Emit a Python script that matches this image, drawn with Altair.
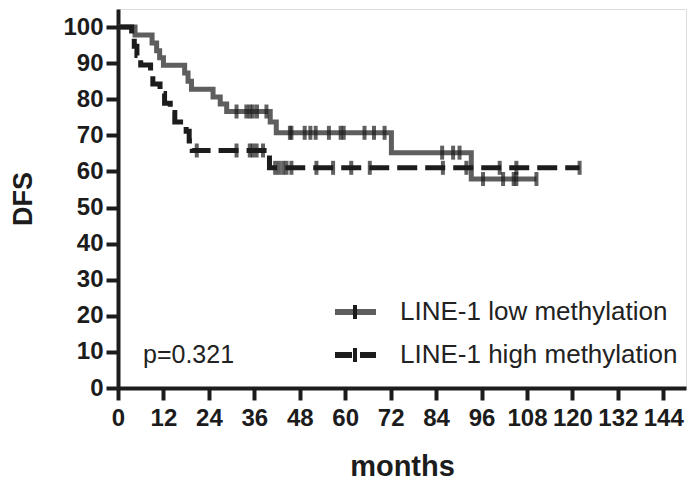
import altair as alt
import pandas as pd

# Kaplan-Meier steps (month, DFS %)
low_t = [0, 4.5, 9.0, 10.2, 11.0, 12.0, 17.6, 18.5, 19.4, 25.1, 27.0, 28.7, 40.2, 41.8, 72.2, 93.3, 110.5]
low_s = [100, 97.8, 95.6, 93.4, 91.5, 89.4, 87.3, 85.0, 82.8, 80.6, 78.7, 76.6, 73.7, 70.7, 65.2, 57.9, 57.9]
low_cens_t = [31.3, 33.9, 34.8, 35.6, 36.7, 39.2, 45.4, 45.8, 49.3, 50.8, 52.2, 55.7, 58.8, 59.6, 65.1, 67.6, 70.4,
              85.6, 88.5, 90.2, 96.4, 101.7, 104.5, 105.2, 110.5]
low_cens_s = [76.6] * 6 + [70.7] * 11 + [65.2] * 3 + [57.9] * 5

high_t = [0, 3.6, 4.3, 5.0, 6.0, 8.6, 9.2, 11.1, 12.3, 13.8, 15.0, 18.0, 18.8, 19.6, 40.0, 121.9]
high_s = [100, 97.4, 94.7, 92.1, 89.5, 86.8, 84.2, 81.6, 78.9, 76.3, 73.7, 71.1, 68.4, 65.8, 61.0, 61.0]
high_cens_t = [20.8, 31.3, 34.8, 35.6, 36.6, 38.3, 41.5, 42.5, 43.6, 44.5, 45.8, 52.4, 56.8, 61.6, 66.5,
               85.8, 92.0, 100.8, 105.2, 121.9]
high_cens_s = [65.8] * 6 + [61.0] * 14

x_ticks = [0, 12, 24, 36, 48, 60, 72, 84, 96, 108, 120, 132, 144]
y_ticks = [0, 10, 20, 30, 40, 50, 60, 70, 80, 90, 100]

GRAY = "#5e5e5e"
BLACK = "#1c1c1c"
FONT = "Liberation Sans"

low_df = pd.DataFrame({"t": low_t, "s": low_s})
high_df = pd.DataFrame({"t": high_t, "s": high_s})
low_c = pd.DataFrame({"t": low_cens_t, "s": low_cens_s})
high_c = pd.DataFrame({"t": high_cens_t, "s": high_cens_s})

xs = alt.Scale(domain=[0, 150], nice=False, zero=False)
ys = alt.Scale(domain=[0, 105], nice=False)

xax = alt.Axis(values=x_ticks, title="months", labelOverlap=False, labelFlush=False, grid=False,
               labelFont=FONT, labelFontSize=24, labelFontWeight="bold", labelColor=BLACK,
               titleFont=FONT, titleFontSize=29, titleFontWeight="bold", titleColor=BLACK,
               domainColor=BLACK, domainWidth=4, tickColor=BLACK, tickWidth=4, tickSize=12,
               labelPadding=6, titlePadding=22)
yax = alt.Axis(values=y_ticks, title="DFS", grid=False, labelFlush=False, labelOverlap=False,
               labelFont=FONT, labelFontSize=24, labelFontWeight="bold", labelColor=BLACK,
               titleFont=FONT, titleFontSize=27, titleFontWeight="bold", titleColor=BLACK,
               domainColor=BLACK, domainWidth=4, tickColor=BLACK, tickWidth=4, tickSize=12,
               labelPadding=3, titlePadding=25)

X = alt.X("t:Q", scale=xs, axis=xax)
Y = alt.Y("s:Q", scale=ys, axis=yax)

low_line = alt.Chart(low_df).mark_line(interpolate="step-after", color=GRAY, strokeWidth=5).encode(x=X, y=Y)
high_line = alt.Chart(high_df).mark_line(interpolate="step-after", color=BLACK, strokeWidth=5,
                                         strokeDash=[20, 8]).encode(x=X, y=Y)
low_tk = alt.Chart(low_c).mark_tick(orient="vertical", color=BLACK, size=14, thickness=4).encode(x=X, y=Y)
high_tk = alt.Chart(high_c).mark_tick(orient="vertical", color=BLACK, size=14, thickness=4).encode(x=X, y=Y)

one = pd.DataFrame({"a": [0]})
# manual legend
leg1 = alt.Chart(one).mark_rule(color=GRAY, strokeWidth=6).encode(
    x=alt.value(217), x2=alt.value(258), y=alt.value(303))
leg1t = alt.Chart(one).mark_rule(color=BLACK, strokeWidth=4).encode(
    x=alt.value(237), y=alt.value(296), y2=alt.value(310))
leg2a = alt.Chart(one).mark_rule(color=BLACK, strokeWidth=6).encode(
    x=alt.value(217), x2=alt.value(234), y=alt.value(346))
leg2b = alt.Chart(one).mark_rule(color=BLACK, strokeWidth=6).encode(
    x=alt.value(242), x2=alt.value(258), y=alt.value(346))
leg2t = alt.Chart(one).mark_rule(color=BLACK, strokeWidth=4).encode(
    x=alt.value(237), y=alt.value(339), y2=alt.value(353))
txt1 = alt.Chart(one).mark_text(text="LINE-1 low methylation", align="left", baseline="middle",
                                font=FONT, fontSize=26, color="#222222").encode(
    x=alt.value(282), y=alt.value(303))
txt2 = alt.Chart(one).mark_text(text="LINE-1 high methylation", align="left", baseline="middle",
                                font=FONT, fontSize=26, color="#222222").encode(
    x=alt.value(282), y=alt.value(346))
ptxt = alt.Chart(one).mark_text(text="p=0.321", align="left", baseline="middle",
                                font=FONT, fontSize=25, color="#222222").encode(
    x=alt.value(25), y=alt.value(346))

chart = alt.layer(low_line, high_line, low_tk, high_tk, leg1, leg1t, leg2a, leg2b, leg2t,
                  txt1, txt2, ptxt).properties(
    width=568, height=379,
    autosize=alt.AutoSizeParams(type="none"),
    padding={"left": 110, "top": 1, "right": 4, "bottom": 95},
).configure_view(stroke=None).configure(background="white")

chart.save("out.html", embed_options={"renderer": "svg", "actions": False})
